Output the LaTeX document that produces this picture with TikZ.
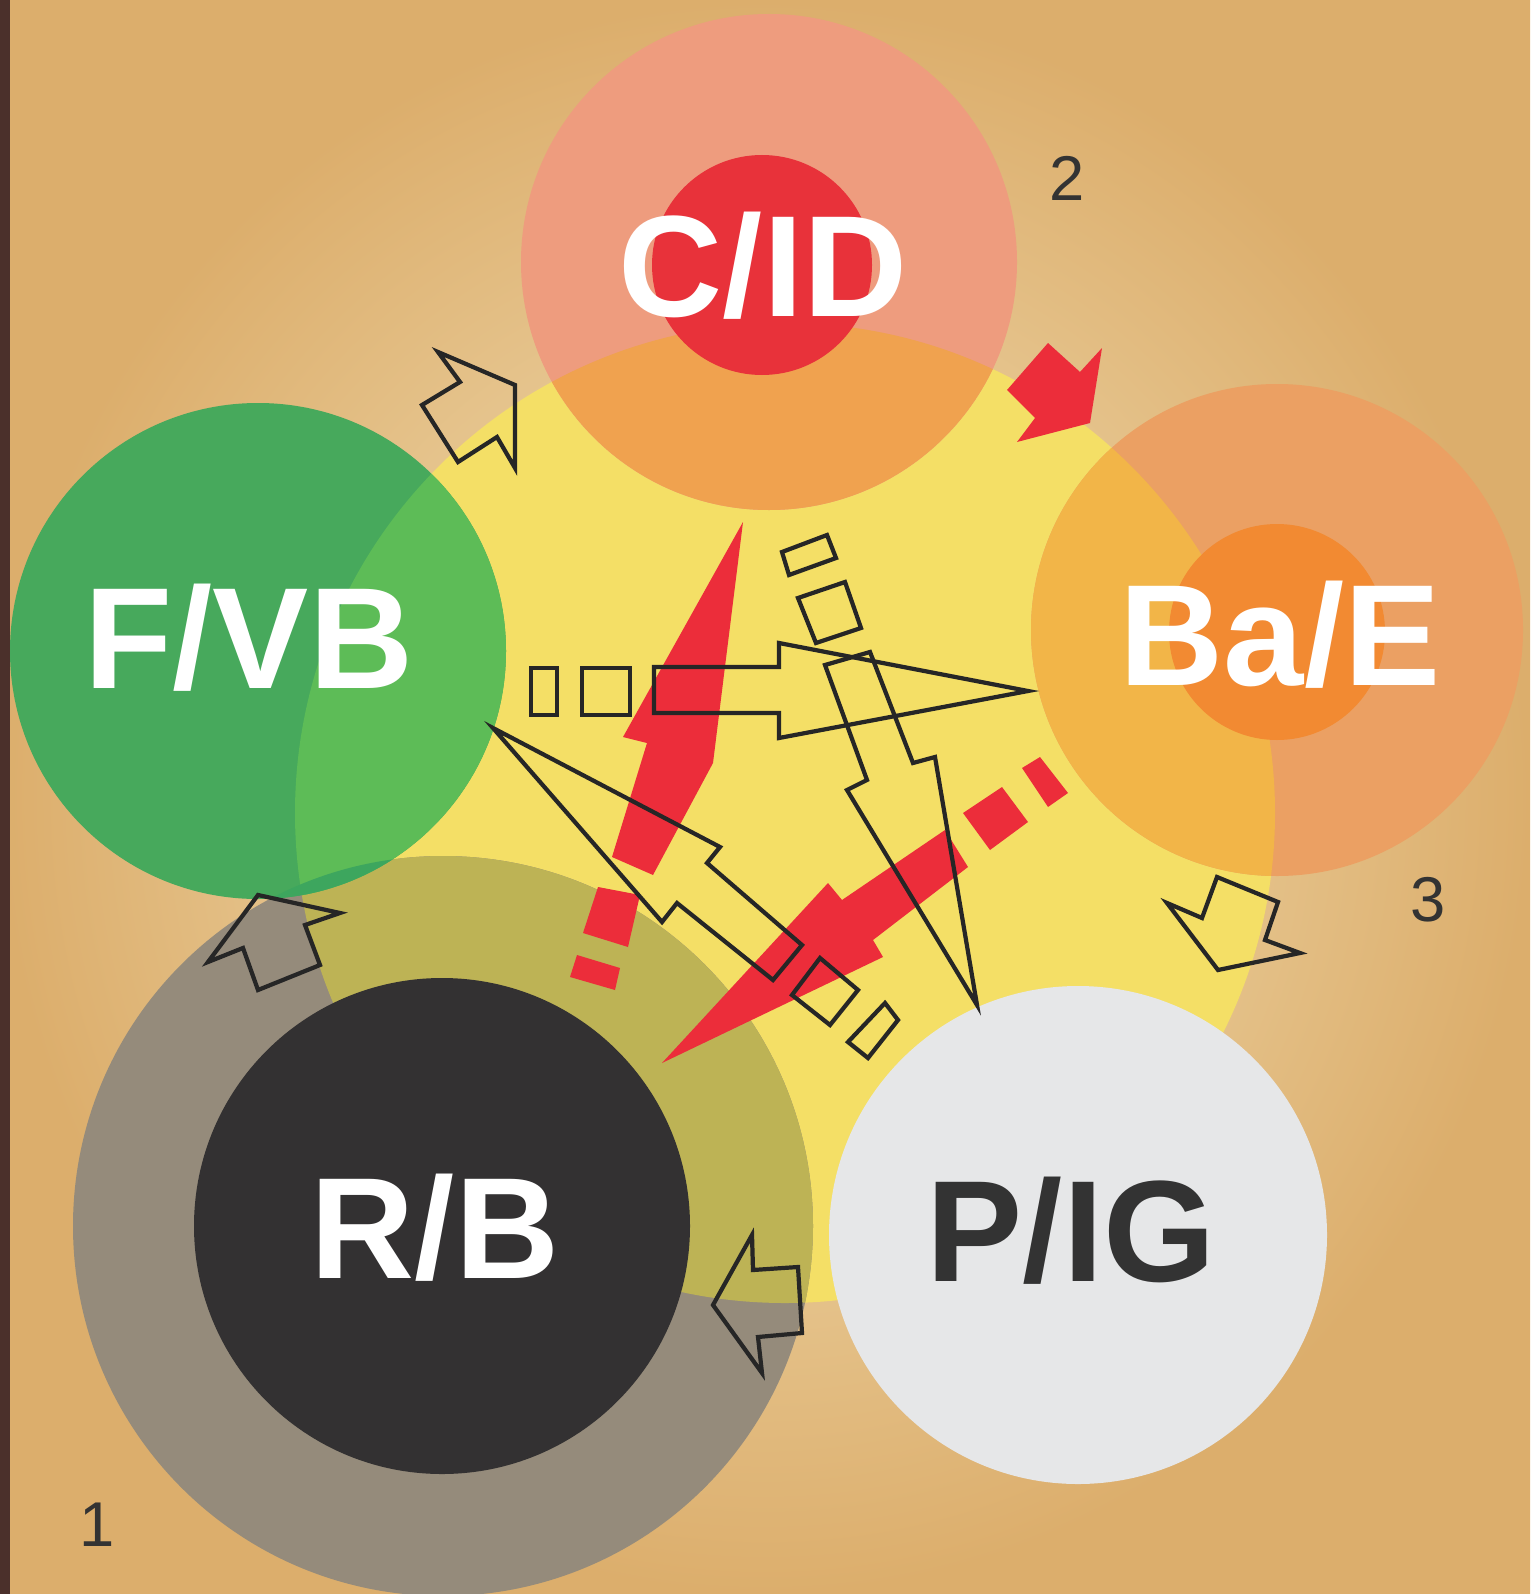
\documentclass[tikz,border=0pt]{standalone}
\usepackage{fontspec}
\setmainfont{Liberation Sans}
\usetikzlibrary{positioning}

\definecolor{parchment}{HTML}{F3E3BC}
\definecolor{parchmentdark}{HTML}{DCAE6C}
\definecolor{edgebrown}{HTML}{4B302B}
\definecolor{sunyellow}{HTML}{F4DF66}
\definecolor{cidsalmon}{HTML}{EE9C7E}
\definecolor{cidorange}{HTML}{F0A24F}
\definecolor{cidred}{HTML}{E8323A}
\definecolor{baeouter}{HTML}{EBA063}
\definecolor{baeyellow}{HTML}{F2B548}
\definecolor{baeinner}{HTML}{F28A32}
\definecolor{fvbgreen}{HTML}{47A95C}
\definecolor{fvblight}{HTML}{5DBC57}
\definecolor{fvbdark}{HTML}{3DA65E}
\definecolor{rbgray}{HTML}{958B7B}
\definecolor{rbkhaki}{HTML}{BDB355}
\definecolor{rbdark}{HTML}{333132}
\definecolor{pigwhite}{HTML}{E6E7E8}
\definecolor{arrowred}{HTML}{EC2D3A}
\definecolor{inkgray}{HTML}{333333}

\begin{document}
\begin{tikzpicture}[
    x=0.01cm, y=-0.01cm,
    circletext/.style={font=\bfseries\fontsize{41}{41}\selectfont, text=white, inner sep=0pt},
    cornernum/.style={font=\fontsize{18}{18}\selectfont, text=inkgray, inner sep=0pt},
    blockarrow/.style={draw=black!85, line width=1.2pt, line join=miter},
    redshape/.style={fill=arrowred}
]

    % Background
    \useasboundingbox (0,0) rectangle (1530,1594);
    \shade[inner color=parchment, outer color=parchmentdark] (0,0) rectangle (1530,1594);
    \fill[edgebrown] (0,0) rectangle (10,1594);

    % Circles
    \fill[sunyellow] (785,813) circle[radius=490];

    \fill[rbgray] (443,1226) circle[radius=370];
    \begin{scope}
        \clip (443,1226) circle[radius=370];
        \fill[rbkhaki] (785,813) circle[radius=490];
    \end{scope}
    \fill[rbdark] (442,1226) circle[radius=248];

    \fill[fvbgreen] (258,651) circle[radius=248];
    \begin{scope}
        \clip (258,651) circle[radius=248];
        \fill[fvblight] (785,813) circle[radius=490];
        \fill[fvbdark] (443,1226) circle[radius=370];
    \end{scope}

    \fill[cidsalmon] (769,262) circle[radius=248];
    \begin{scope}
        \clip (769,262) circle[radius=248];
        \fill[cidorange] (785,813) circle[radius=490];
    \end{scope}
    \fill[cidred] (762,265) circle[radius=110];

    \fill[baeouter] (1277,630) circle[radius=246];
    \begin{scope}
        \clip (1277,630) circle[radius=246];
        \fill[baeyellow] (785,813) circle[radius=490];
    \end{scope}
    \fill[baeinner] (1277,632) circle[radius=108];

    \fill[pigwhite] (1078,1235) circle[radius=249];

    % Labels
    \node[circletext] (CID) at (763,266)  {C/ID};
    \node[circletext] (FVB) at (249,638)  {F/VB};
    \node[circletext] (BaE) at (1280,635) {Ba/E};
    \node[circletext] (RB)  at (435,1228) {R/B};
    \node[circletext, text=inkgray] (PIG) at (1071,1231) {P/IG};

    \node[cornernum] (One)   at (97,1525)  {1};
    \node[cornernum] (Two)   at (1067,178) {2};
    \node[cornernum] (Three) at (1428,900) {3};

    % Cycle arrows
    \draw[blockarrow] (438,352) -- (515,385) -- (515,468) -- (497,437) -- (458,462) -- (422,405) -- (460,382) -- cycle;
    \fill[redshape] (1048,343) -- (1080,372) -- (1102,348) -- (1090,423) -- (1017,442) -- (1035,418) -- (1007,390) -- cycle;
    \draw[blockarrow] (1217,877) -- (1278,902) -- (1265,940) -- (1300,953) -- (1218,970) -- (1167,903) -- (1202,918) -- cycle;
    \draw[blockarrow] (752,1235) -- (753,1270) -- (798,1267) -- (802,1333) -- (758,1337) -- (762,1373) -- (713,1305) -- cycle;
    \draw[blockarrow] (258,895) -- (340,913) -- (305,925) -- (320,965) -- (258,990) -- (243,948) -- (208,962) -- cycle;

    % Red arrows
    \fill[redshape] (743,522) -- (713,763) -- (653,875) -- (612,857) -- (647,743) -- (623,737) -- cycle;
    \fill[redshape] (598,887) -- (640,895) -- (628,947) -- (583,933) -- cycle;
    \fill[redshape] (577,955) -- (620,968) -- (615,990) -- (570,977) -- cycle;

    \fill[redshape] (662,1063) -- (828,883) -- (842,900) -- (945,830) -- (968,867) -- (873,940) -- (883,957) -- cycle;
    \fill[redshape] (963,813) -- (1002,787) -- (1028,822) -- (990,850) -- cycle;
    \fill[redshape] (1022,768) -- (1040,757) -- (1068,793) -- (1048,807) -- cycle;

    % Outline arrows
    \draw[blockarrow] (531,668) rectangle (557,715);
    \draw[blockarrow] (582,668) rectangle (630,715);
    \draw[blockarrow] (654,667) -- (779,667) -- (779,643) -- (1028,691) -- (779,738) -- (779,713) -- (654,713) -- cycle;

    \draw[blockarrow] (782,552) -- (827,535) -- (836,558) -- (789,575) -- cycle;
    \draw[blockarrow] (798,598) -- (845,582) -- (861,628) -- (816,643) -- cycle;
    \draw[blockarrow] (825,665) -- (870,652) -- (913,763) -- (935,757) -- (977,1005) -- (847,790) -- (867,780) -- cycle;

    \draw[blockarrow] (493,728) -- (720,847) -- (707,863) -- (802,945) -- (773,980) -- (677,903) -- (662,922) -- cycle;
    \draw[blockarrow] (820,958) -- (858,990) -- (830,1025) -- (792,995) -- cycle;
    \draw[blockarrow] (885,1003) -- (898,1020) -- (868,1058) -- (848,1042) -- cycle;

\end{tikzpicture}
\end{document}
